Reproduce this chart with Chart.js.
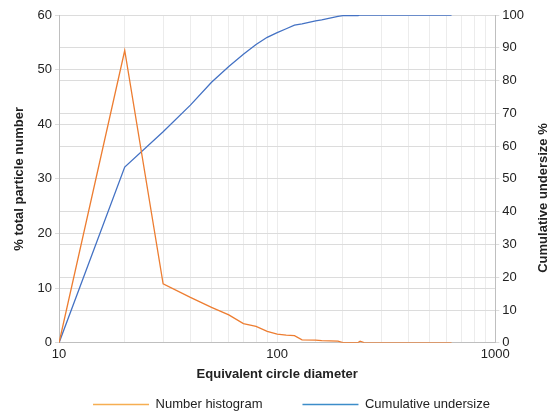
<!DOCTYPE html>
<html>
<head>
<meta charset="utf-8">
<script src="https://cdn.jsdelivr.net/npm/chart.js@4.4.1/dist/chart.umd.min.js"></script>
<style>
html, body { margin: 0; padding: 0; background: #fff; }
</style>
</head>
<body>
<canvas id="myChart" width="550" height="414"></canvas>
<script>
var sizes = [10, 20, 30, 40, 50, 60, 70, 80, 90, 100, 110, 120, 130, 150, 160, 190, 200, 235, 240, 250, 300, 400, 500, 630];
var numberHistogram = [0, 53.5, 10.8, 8.3, 6.5, 5.1, 3.5, 3.0, 2.1, 1.6, 1.4, 1.3, 0.55, 0.5, 0.4, 0.3, 0.05, 0.05, 0.3, 0.05, 0, 0, 0, 0];
var cumulativeUndersize = [0, 53.6, 64.4, 72.5, 79.5, 84.3, 88, 91, 93.2, 94.6, 95.8, 96.9, 97.3, 98.2, 98.5, 99.6, 99.8, 99.8, 100, 100, 100, 100, 100, 100];
var xTickLabels = [10, 100, 1000];

var font = "'Liberation Sans', Arial, sans-serif";
var legendColors = ["#f6ae52", "#3c8dc9"];

function toPoints(values) {
	return sizes.map(function (s, i) {
		return { x: s, y: values[i] };
	});
}

var tweaks = {
	id: "tweaks",
	afterLayout: function (chart) {
		// grow the legend box upward and shift it right so the items land where the original has them
		var lg = chart.legend;
		lg.top -= 24;
		lg.left += 22;
		lg.right += 22;
	},
	afterDraw: function (chart) {
		// right axis title reads bottom-to-top like the left one
		var ctx = chart.ctx;
		ctx.save();
		ctx.translate(543, 198);
		ctx.rotate(-Math.PI / 2);
		ctx.font = "bold 13px " + font;
		ctx.fillStyle = "#222";
		ctx.textAlign = "center";
		ctx.textBaseline = "middle";
		ctx.fillText("Cumulative undersize %", 0, 0);
		ctx.restore();
	},
};

var ctx = document.getElementById("myChart").getContext("2d");
var myChart = new Chart(ctx, {
	type: "line",
	data: {
		datasets: [
			{
				label: "Number histogram",
				data: toPoints(numberHistogram),
				borderColor: "#ed7d31",
				borderWidth: 1.3,
				pointRadius: 0,
				yAxisID: "y",
			},
			{
				label: "Cumulative undersize",
				data: toPoints(cumulativeUndersize),
				borderColor: "#4472c4",
				borderWidth: 1.3,
				pointRadius: 0,
				yAxisID: "y1",
			},
		],
	},
	options: {
		responsive: false,
		animation: false,
		layout: { padding: { top: 15, right: 23, left: 12, bottom: 0 } },
		scales: {
			x: {
				type: "logarithmic",
				min: 10,
				max: 1000,
				grid: { color: "#ececec", drawTicks: false },
				border: { color: "#bfbfbf" },
				ticks: {
					autoSkip: false,
					maxRotation: 0,
					padding: 4,
					color: "#222",
					font: { family: font, size: 13 },
					callback: function (v) {
						return xTickLabels.indexOf(v) >= 0 ? String(v) : "";
					},
				},
				title: {
					display: true,
					text: "Equivalent circle diameter",
					color: "#222",
					font: { family: font, size: 13, weight: "bold" },
					padding: { top: 0, bottom: 0 },
				},
			},
			y: {
				position: "left",
				min: 0,
				max: 60,
				ticks: { stepSize: 10, color: "#222", font: { family: font, size: 13 }, padding: 3 },
				grid: { color: "#dcdcdc", tickLength: 4 },
				border: { color: "#bfbfbf" },
				title: {
					display: true,
					text: "% total particle number",
					color: "#222",
					font: { family: font, size: 13, weight: "bold" },
					padding: { top: 0, bottom: 7 },
				},
			},
			y1: {
				position: "right",
				min: 0,
				max: 100,
				ticks: { stepSize: 10, color: "#222", font: { family: font, size: 13 }, padding: 3 },
				grid: { color: "#dcdcdc", tickLength: 4 },
				border: { color: "#bfbfbf" },
			},
		},
		plugins: {
			legend: {
				position: "bottom",
				maxHeight: 32,
				labels: {
					usePointStyle: true,
					pointStyle: "line",
					pointStyleWidth: 56,
					padding: 40,
					color: "#222",
					font: { family: font, size: 13 },
					generateLabels: function (chart) {
						var items = Chart.defaults.plugins.legend.labels.generateLabels(chart);
						items.forEach(function (item, i) {
							item.strokeStyle = legendColors[i];
							item.lineWidth = 1.5;
						});
						return items;
					},
				},
			},
			tooltip: { enabled: false },
		},
	},
	plugins: [tweaks],
});
</script>
</body>
</html>
